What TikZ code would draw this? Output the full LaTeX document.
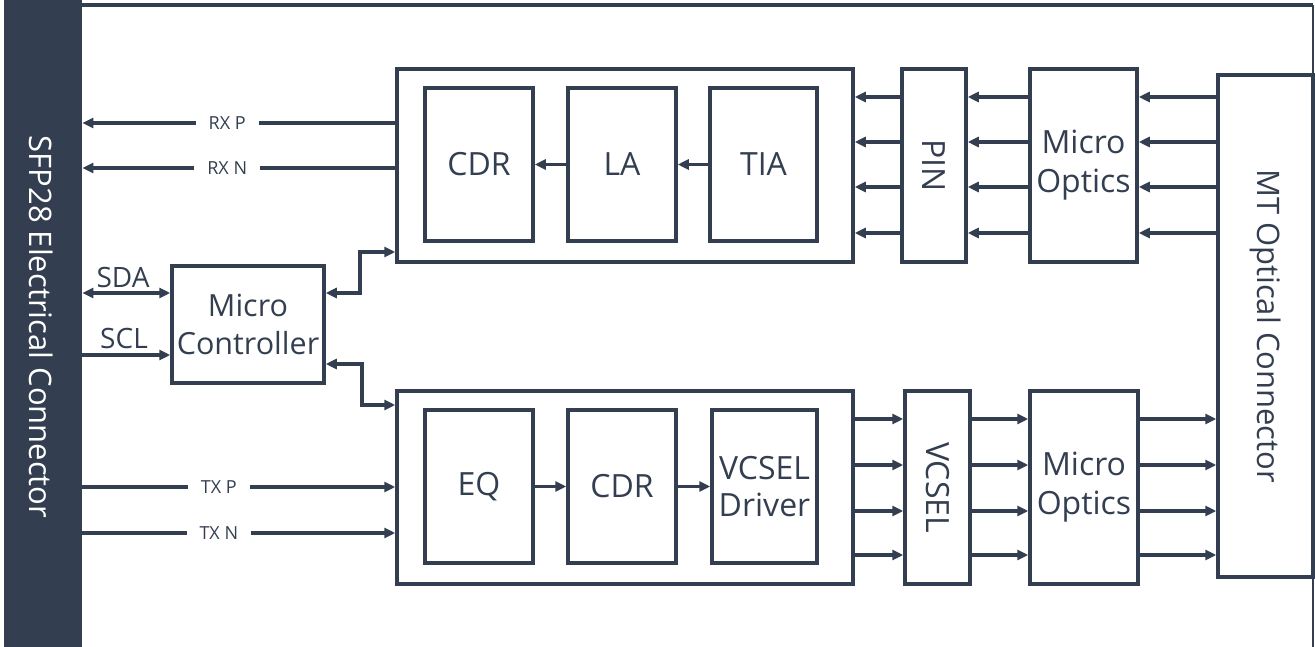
\documentclass[tikz,border=0pt]{standalone}
\usepackage{fontspec}
\setmainfont{Open Sans}
\usetikzlibrary{arrows.meta}
\definecolor{dk}{HTML}{333F50}
\tikzset{
  box/.style={draw=dk, line width=3.5pt, inner sep=0pt, align=center, text=dk,
    font=\fontsize{32}{39}\selectfont},
  arr/.style={draw=dk, line width=3.5pt, -{Triangle[length=11pt,width=10pt]}},
  dbl/.style={draw=dk, line width=3.5pt, {Triangle[length=11pt,width=10pt]}-{Triangle[length=11pt,width=10pt]}},
  sig/.style={fill=white, text=dk, inner xsep=13pt, inner ysep=2pt, font=\fontsize{18}{21}\selectfont},
  bus/.style={text=dk, font=\fontsize{28}{32}\selectfont, inner sep=0pt}
}
\begin{document}
\begin{tikzpicture}[x=1pt,y=-1pt]
\useasboundingbox (0,0) rectangle (1315,647);
% left connector bar
\node[fill=dk, minimum width=78pt, minimum height=647pt, inner sep=0pt, anchor=north west] (bar) at (4,0) {};
\node[rotate=-90, text=white, font=\fontsize{31}{37}\selectfont] (sfp) at (41,327) {SFP28 Electrical Connector};
% frame
\coordinate (ftl) at (82,5);
\coordinate (ftr) at (1313,5);
\coordinate (fbr) at (1313,647);
\draw[dk, line width=3.5pt] (ftl) -- (ftr);
\draw[dk, line width=2.5pt] (ftr) -- (fbr);
% RX path
\node[box, minimum width=456pt, minimum height=193pt] (rx) at (625,165.5) {};
\node[box, minimum width=108pt, minimum height=153pt] (cdr1) at (479,164.5) {CDR};
\node[box, minimum width=108pt, minimum height=153pt] (la) at (622,164.5) {LA};
\node[box, minimum width=107pt, minimum height=153pt] (tia) at (763.5,164.5) {TIA};
\node[box, minimum width=64pt, minimum height=193pt] (pin) at (934,165.5) {};
\node[rotate=-90, text=dk, font=\fontsize{32}{39}\selectfont] (pint) at (pin.center) {PIN};
\node[box, minimum width=107pt, minimum height=193pt] (mo1) at (1083.5,165.5) {Micro\\Optics};
% MT connector
\node[box, minimum width=95pt, minimum height=502pt] (mt) at (1265.5,326) {};
\node[rotate=-90, text=dk, font=\fontsize{31}{37}\selectfont] (mtt) at (mt.center) {MT Optical Connector};
% TX path
\node[box, minimum width=456pt, minimum height=193pt] (tx) at (625,487.5) {};
\node[box, minimum width=108pt, minimum height=153pt] (eq) at (479,486.5) {EQ};
\node[box, minimum width=108pt, minimum height=153pt] (cdr2) at (622,486.5) {CDR};
\node[box, minimum width=105pt, minimum height=153pt, font=\fontsize{32}{37}\selectfont] (drv) at (764.5,486.5) {VCSEL\\Driver};
\node[box, minimum width=65pt, minimum height=193pt] (vcsel) at (937.5,487.5) {};
\node[rotate=-90, text=dk, font=\fontsize{32}{39}\selectfont] (vct) at (vcsel.center) {VCSEL};
\node[box, minimum width=108pt, minimum height=193pt] (mo2) at (1084,487.5) {Micro\\Optics};
% micro controller
\node[box, minimum width=152pt, minimum height=117pt, font=\fontsize{30.5}{38}\selectfont] (mc) at (248,324.5) {Micro\\Controller};
% internal arrows
\draw[arr] (la.west) -- (cdr1.east);
\draw[arr] (tia.west) -- (la.east);
\draw[arr] (eq.east) -- (cdr2.west);
\draw[arr] (cdr2.east) -- (drv.west);
% optical lanes
\foreach \y in {97,142,187,233} {
  \draw[arr] (pin.west |- 0,\y) -- (rx.east |- 0,\y);
  \draw[arr] (mo1.west |- 0,\y) -- (pin.east |- 0,\y);
  \draw[arr] (mt.west |- 0,\y) -- (mo1.east |- 0,\y);
}
\foreach \y in {419,465,511,555} {
  \draw[arr] (tx.east |- 0,\y) -- (vcsel.west |- 0,\y);
  \draw[arr] (vcsel.east |- 0,\y) -- (mo2.west |- 0,\y);
  \draw[arr] (mo2.east |- 0,\y) -- (mt.west |- 0,\y);
}
% electrical signals
\draw[arr] (rx.west |- 0,123) -- node[sig, pos=0.537] (rxp) {RX P} (bar.east |- 0,123);
\draw[arr] (rx.west |- 0,168) -- node[sig, pos=0.537] (rxn) {RX N} (bar.east |- 0,168);
\draw[arr] (bar.east |- 0,487) -- node[sig, pos=0.436] (txp) {TX P} (tx.west |- 0,487);
\draw[arr] (bar.east |- 0,533) -- node[sig, pos=0.436] (txn) {TX N} (tx.west |- 0,533);
% I2C
\draw[dbl] (bar.east |- 0,293) -- (mc.west |- 0,293);
\node[bus] (sda) at (123,277) {SDA};
\draw[arr] (bar.east |- 0,355) -- (mc.west |- 0,355);
\node[bus] (scl) at (124,338) {SCL};
% controller links
\draw[dbl] (mc.east |- 0,293) -- (360,293) -- (360,252) -- (rx.west |- 0,252);
\draw[dbl] (mc.east |- 0,364) -- (362,364) -- (362,405) -- (tx.west |- 0,405);
\end{tikzpicture}
\end{document}
